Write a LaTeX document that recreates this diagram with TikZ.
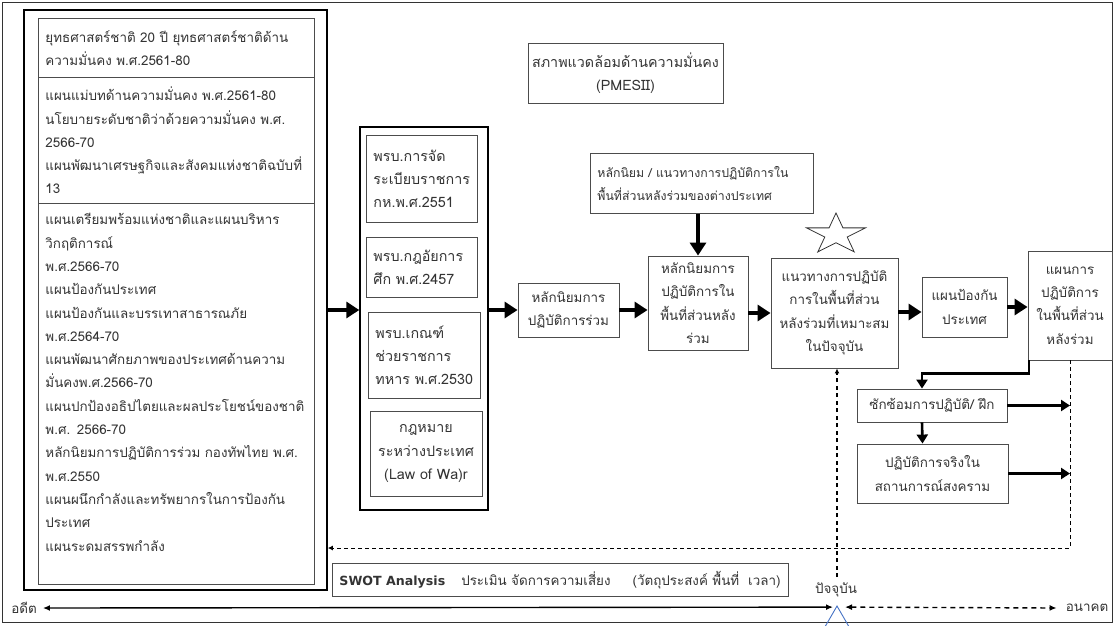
\documentclass[tikz,border=0pt]{standalone}
\usepackage{fontspec}
\newfontfamily\thaifont[Script=Thai]{Loma}
\newfontfamily\latinfont{DejaVu Sans}
\newcommand\thfont[1]{\thaifont\fontsize{#1}{23.3pt}\selectfont}
\usetikzlibrary{positioning,arrows.meta,calc,shapes.geometric}
\definecolor{nowblue}{RGB}{68,114,196}
\tikzset{
	every node/.style={font=\thfont{13.4pt}, text=black!80},
	box/.style={draw=black!70, line width=0.9pt, rectangle, inner sep=0pt, align=center},
	listbox/.style={box, anchor=north west, align=left, inner xsep=7pt},
	framebox/.style={draw=black, line width=1.8pt, rectangle, inner sep=0pt},
	bigarrow/.style={-{Triangle[length=13pt,width=16pt]}, line width=4pt},
	midarrow/.style={-{Triangle[length=9pt,width=11pt]}, line width=2.6pt},
	fbline/.style={-{Latex[length=5pt,width=5pt]}, line width=0.8pt, dash pattern=on 4pt off 3pt},
	timeline/.style={{Latex[length=7pt,width=6pt]}-{Latex[length=7pt,width=6pt]}, line width=1.4pt}
}
\begin{document}
\begin{tikzpicture}[x=1pt,y=-1pt]
	\useasboundingbox (0,0) rectangle (1115,625);
	\draw[black!80, line width=0.8pt] (2.5,2.5) rectangle (1112.5,622.5);
	
	% left column
	\node[framebox, minimum width=303pt, minimum height=580pt] (leftframe) at (175.5,300) {};
	\node[listbox, text width=262pt, minimum height=59pt] (lst1) at (38,18)
	{ยุทธศาสตร์ชาติ 20 ปี ยุทธศาสตร์ชาติด้าน\\ความมั่นคง พ.ศ.2561-80};
	\node[listbox, text width=262pt, minimum height=126pt] (lst2) at (38,77)
	{แผนแม่บทด้านความมั่นคง พ.ศ.2561-80\\นโยบายระดับชาติว่าด้วยความมั่นคง พ.ศ.\\2566-70\\
		แผนพัฒนาเศรษฐกิจและสังคมแห่งชาติฉบับที่\\13};
	\node[listbox, text width=262pt, minimum height=381pt] (lst3) at (38,203)
	{แผนเตรียมพร้อมแห่งชาติและแผนบริหาร\\วิกฤติการณ์\\พ.ศ.2566-70\\แผนป้องกันประเทศ\\
		แผนป้องกันและบรรเทาสาธารณภัย\\พ.ศ.2564-70\\แผนพัฒนาศักยภาพของประเทศด้านความ\\
		มั่นคงพ.ศ.2566-70\\แผนปกป้องอธิปไตยและผลประโยชน์ของชาติ\\พ.ศ. 2566-70\\
		หลักนิยมการปฏิบัติการร่วม กองทัพไทย พ.ศ.\\พ.ศ.2550\\แผนผนึกกำลังและทรัพยากรในการป้องกัน\\
		ประเทศ\\แผนระดมสรรพกำลัง\\~};
	
	% middle column
	\node[framebox, line width=1.4pt, minimum width=128pt, minimum height=383pt] (midframe) at (424,318.5) {};
	\node[listbox, font=\thfont{14.3pt}, text width=97pt, minimum height=87pt] (actA) at (366,135)
	{พรบ.การจัด\\ระเบียบราชการ\\กห.พ.ศ.2551};
	\node[listbox, font=\thfont{14.3pt}, text width=97pt, minimum height=60pt] (actB) at (366,237)
	{พรบ.กฎอัยการ\\ศึก พ.ศ.2457};
	\node[listbox, font=\thfont{14.3pt}, text width=98pt, minimum height=86pt] (actC) at (368,312)
	{พรบ.เกณฑ์\\ช่วยราชการ\\ทหาร พ.ศ.2530};
	\node[box, font=\thfont{14.3pt}, minimum width=112pt, minimum height=85pt] (law) at (426,453.5)
	{กฎหมาย\\ระหว่างประเทศ\\(Law of Wa)r};
	
	% main chain
	\node[box, minimum width=101pt, minimum height=54pt] (joint) at (568.5,310)
	{หลักนิยมการ\\ปฏิบัติการร่วม};
	\node[box, minimum width=100pt, minimum height=94pt] (rear) at (698,303)
	{หลักนิยมการ\\ปฏิบัติการใน\\พื้นที่ส่วนหลัง\\ร่วม};
	\node[box, minimum width=127pt, minimum height=110pt] (guide) at (834.5,313)
	{แนวทางการปฏิบัติ\\การในพื้นที่ส่วน\\หลังร่วมที่เหมาะสม\\ในปัจจุบัน};
	\node[box, minimum width=85pt, minimum height=60pt] (defplan) at (964.5,307)
	{แผนป้องกัน\\ประเทศ};
	\node[box, minimum width=84pt, minimum height=109pt] (opplan) at (1070,305.5)
	{แผนการ\\ปฏิบัติการ\\ในพื้นที่ส่วน\\หลังร่วม};
	
	\node[box, font=\thfont{14.3pt}, minimum width=195pt, minimum height=60pt] (pmesii) at (625.5,73)
	{สภาพแวดล้อมด้านความมั่นคง\\(PMESII)};
	\node[listbox, font=\thfont{12.3pt}, text width=209pt, minimum height=60pt] (foreign) at (590,153)
	{หลักนิยม / แนวทางการปฏิบัติการใน\\พื้นที่ส่วนหลังร่วมของต่างประเทศ};
	
	\node[box, minimum width=150pt, minimum height=33pt] (drill) at (932,405.5)
	{ซักซ้อมการปฏิบัติ/ ฝึก};
	\node[box, minimum width=151pt, minimum height=59pt] (real) at (932.5,473.5)
	{ปฏิบัติการจริงใน\\สถานการณ์สงคราม};
	
	\node[listbox, text width=442pt, minimum height=33pt] (swot) at (332,563)
	{{\latinfont\bfseries\fontsize{12.6pt}{14pt}\selectfont SWOT Analysis}\hspace{16pt}ประเมิน จัดการความเสี่ยง\hspace{22pt}(วัตถุประสงค์ พื้นที่\ \ เวลา)};
	
	% star
	\draw[black!80, line width=0.8pt, shift={(836,234.5)}, xscale=1.44] (-90:21.5)
	\foreach \k in {1,...,9} {-- ({-90+36*\k}:{ifthenelse(isodd(\k),8.2,21.5)})} -- cycle;
	
	% timeline
	\node[inner xsep=6pt] (past) at (24,608) {อดีต};
	\node[inner xsep=9pt] (future) at (1087,608) {อนาคต};
	\node (nowlabel) at (836,590) {ปัจจุบัน};
	\node[regular polygon, regular polygon sides=3, draw=nowblue, line width=0.9pt,
	minimum size=34.6pt, inner sep=0pt] (nowmark) at (837,623.3) {};
	\coordinate (fb) at (1070,548);
	\coordinate (now) at (837,577);
	
	% connectors
	\draw[bigarrow] (leftframe.east |- joint.west) -- (midframe.west |- joint.west);
	\draw[bigarrow] (midframe.east |- joint.west) -- (joint.west);
	\draw[bigarrow] (joint.east) -- (joint.east -| rear.west);
	\draw[bigarrow] (guide.west -| rear.east) -- (guide.west);
	\draw[bigarrow] (guide.east |- 0,312) -- (defplan.west |- 0,312);
	\draw[bigarrow] (defplan.east) -- (defplan.east -| opplan.west);
	\draw[bigarrow] (rear.north |- foreign.south) -- (rear.north);
	
	\draw[midarrow] ($(opplan.south west)+(1.5,0)$) -- ++(0,13) -| ($(drill.north)+(-10,0)$);
	\draw[midarrow] ($(drill.south)+(-10,0)$) -- ($(real.north)+(-10,0)$);
	\draw[midarrow] (drill.east) -- (drill.east -| fb);
	\draw[midarrow] (real.east) -- (real.east -| fb);
	
	\draw[fbline] (opplan.south) -- (fb) -- (fb -| leftframe.east);
	\draw[fbline, line width=1.1pt, dash pattern=on 4pt off 3.5pt] (now) -- (now |- guide.south);
	
	\draw[timeline] (past.east) -- ($(nowmark.corner 1)+(-4,2)$);
	\draw[timeline, dash pattern=on 5pt off 4pt] ($(nowmark.corner 1)+(8,2)$) -- (future.west);
\end{tikzpicture}
\end{document}
